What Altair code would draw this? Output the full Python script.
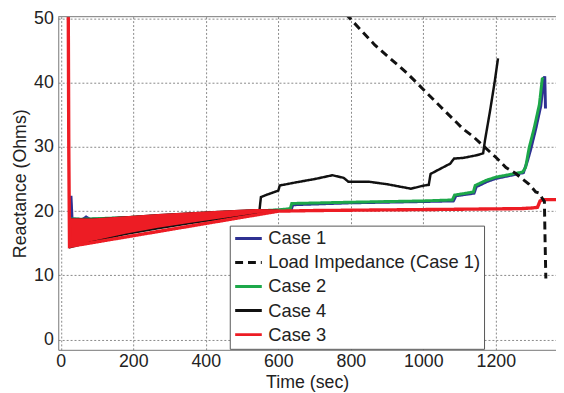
import altair as alt
import pandas as pd

# ---------------- data ----------------
names = ["Case 1", "Load Impedance (Case 1)", "Case 2", "Case 4", "Case 3"]
colors = ["#2E3192", "#111111", "#1DA84A", "#111111", "#ED1C24"]
dashes = [[1, 0], [8, 5], [1, 0], [1, 0], [1, 0]]

x_ticks = [0, 200, 400, 600, 800, 1000, 1200]
y_ticks = [0, 10, 20, 30, 40, 50]

# Case 3 oscillation envelope (early part)
band_t = [23, 30, 86, 178, 268, 358, 449, 540, 600]
band_lo = [14.4, 14.5, 15.35, 16.5, 17.4, 18.2, 18.95, 19.7, 19.8]
band_hi = [18.9, 18.9, 18.85, 19.2, 19.55, 19.85, 20.1, 20.35, 20.25]
# Case 4 lower envelope (peeks out below Case 3)
band4_lo = [14.15, 14.25, 15.1, 16.25, 17.15, 17.95, 18.7, 19.5, 19.75]

case3_t = [20, 22, 24, 600, 700, 900, 1100, 1270, 1300, 1315, 1322, 1330, 1366]
case3_v = [60, 30, 14.5, 20.0, 20.1, 20.2, 20.3, 20.4, 20.5, 20.6, 21.6, 21.8, 21.8]

case4_t = [24, 100, 200, 300, 400, 500, 548, 552, 570, 590, 600, 604, 650, 700,
           749, 780, 793, 848, 900, 966, 1002, 1015, 1020, 1040, 1074, 1085,
           1110, 1146, 1165, 1170, 1184, 1197, 1206]
case4_v = [17.0, 17.5, 18.0, 18.6, 19.2, 19.8, 20.1, 22.2, 22.6, 23.0, 23.2, 24.0,
           24.5, 25.0, 25.6, 25.2, 24.6, 24.6, 24.2, 23.5, 24.0, 24.1, 25.8, 26.4,
           27.4, 28.2, 28.3, 28.7, 29.0, 31.0, 35.6, 40.2, 43.8]

case2_t = [25, 60, 200, 400, 600, 633, 637, 800, 1000, 1080, 1086, 1138, 1143,
           1173, 1200, 1274, 1282, 1292, 1306, 1320, 1328, 1331]
case2_v = [18.8, 18.75, 19.05, 19.7, 20.2, 20.4, 21.2, 21.4, 21.6, 21.75, 22.5, 23.0,
           24.0, 24.8, 25.3, 26.1, 26.8, 29.9, 33.0, 36.6, 40.6, 40.8]

case1_t = [25, 28, 31, 60, 70, 80, 200, 400, 600, 636, 640, 800, 1000, 1083, 1090,
           1140, 1146, 1175, 1200, 1276, 1286, 1296, 1310, 1324, 1332, 1335, 1337]
case1_v = [18.8, 22.4, 18.8, 18.7, 19.1, 18.75, 19.0, 19.65, 20.15, 20.3, 21.0, 21.3,
           21.5, 21.6, 22.4, 22.8, 23.8, 24.6, 25.1, 26.0, 27.6, 29.6, 32.8, 36.4,
           40.5, 41.0, 36.0]

load_t = [640, 700, 790, 866, 957, 1047, 1110, 1138, 1165, 1200, 1228, 1254, 1274,
          1292, 1310, 1320, 1328, 1334, 1336, 1338]
load_v = [62, 56.5, 50.5, 45.9, 41.4, 36.3, 32.8, 31.6, 30.2, 28.4, 26.8, 25.9, 25.0,
          24.2, 23.0, 22.8, 22.0, 21.5, 15.0, 9.5]

# ---------------- chart ----------------
W, H = 505, 338
xdom = [-7, 1366]
ydom = [-1.6, 50.3]
FONT = "Liberation Sans"

xs = alt.Scale(domain=xdom, nice=False, zero=False)
ys = alt.Scale(domain=ydom, nice=False, zero=False)
xax = alt.Axis(values=x_ticks, title="Time (sec)", format="d")
yax = alt.Axis(values=y_ticks, title="Reactance (Ohms)")

color_enc = alt.Color("series:N", scale=alt.Scale(domain=names, range=colors),
                      title=None)
dash_enc = alt.StrokeDash("series:N", scale=alt.Scale(domain=names, range=dashes),
                          title=None)


def line_layer(name, t, v, width):
    df = pd.DataFrame({"t": t, "v": v, "series": name})
    df["i"] = range(len(df))
    return alt.Chart(df).mark_line(strokeWidth=width, clip=True).encode(
        x=alt.X("t:Q", scale=xs, axis=xax),
        y=alt.Y("v:Q", scale=ys, axis=yax),
        color=color_enc,
        strokeDash=dash_enc,
        order="i:Q",
    )


band_df = pd.DataFrame({"t": band_t, "lo": band_lo, "hi": band_hi, "lo4": band4_lo})

band4 = alt.Chart(band_df).mark_area(color="#111111", clip=True).encode(
    x=alt.X("t:Q", scale=xs, axis=xax),
    y=alt.Y("lo4:Q", scale=ys, axis=yax),
    y2="hi:Q",
)
band3 = alt.Chart(band_df).mark_area(color="#ED1C24", clip=True).encode(
    x=alt.X("t:Q", scale=xs, axis=xax),
    y=alt.Y("lo:Q", scale=ys, axis=yax),
    y2="hi:Q",
)

top_border = alt.Chart(pd.DataFrame({"a": [0]})).mark_rule(
    color="#777777", strokeWidth=1
).encode(y=alt.value(0), x=alt.value(0), x2=alt.value(W))

chart = alt.layer(
    line_layer("Case 1", case1_t, case1_v, 3),
    line_layer("Case 2", case2_t, case2_v, 3),
    band4,
    line_layer("Case 4", case4_t, case4_v, 2.5),
    band3,
    line_layer("Case 3", case3_t, case3_v, 3.4),
    line_layer("Load Impedance (Case 1)", load_t, load_v, 3),
    top_border,
).properties(
    width=W,
    height=H,
    autosize=alt.AutoSizeParams(type="none"),
    padding={"left": 51, "top": 6, "right": 0, "bottom": 41},
).configure_view(
    stroke=None
).configure_axis(
    labelFont=FONT,
    titleFont=FONT,
    labelFontSize=18,
    titleFontSize=18,
    titleFontWeight="normal",
    labelColor="#222222",
    titleColor="#222222",
    domainColor="#777777",
    domainWidth=1,
    ticks=False,
    grid=True,
    gridColor="#888888",
    gridDash=[2, 2],
    gridWidth=1,
    gridOpacity=1,
).configure_axisX(
    labelPadding=3,
    titlePadding=3,
).configure_axisY(
    labelPadding=5,
    titlePadding=4,
).configure_legend(
    orient="none",
    legendX=174,
    legendY=212,
    labelFont=FONT,
    labelFontSize=18.6,
    labelColor="#222222",
    labelLimit=400,
    symbolType="stroke",
    symbolSize=729,
    symbolStrokeWidth=3,
    symbolOffset=0,
    labelOffset=5,
    rowPadding=5.4,
    clipHeight=18,
    padding=4,
    strokeColor="#555555",
    fillColor="white",
    cornerRadius=0,
)

chart.save("out.html", embed_options={"renderer": "svg", "actions": False})
